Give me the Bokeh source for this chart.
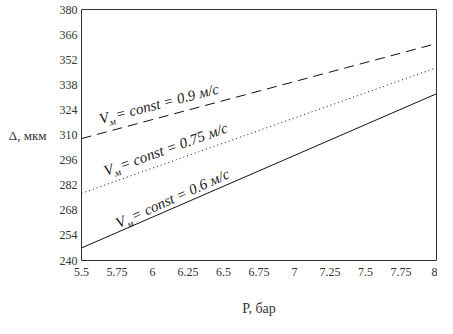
import math
from bokeh.plotting import figure
from bokeh.models import Range1d, FixedTicker
from bokeh.core.properties import value
from bokeh.embed import file_html
from bokeh.resources import INLINE

# ---- data ----
pressure = [5.5, 8.0]
delta_09 = [308.0, 361.0]
delta_075 = [277.5, 347.5]
delta_06 = [247.0, 333.0]

x_ticks = [5.5, 5.75, 6.0, 6.25, 6.5, 6.75, 7.0, 7.25, 7.5, 7.75, 8.0]
x_tick_labels = ["5.5", "5.75", "6", "6.25", "6.5", "6.75", "7", "7.25", "7.5", "7.75", "8"]
y_ticks = [240, 254, 268, 282, 296, 310, 324, 338, 352, 366, 380]

speeds = ["0.9", "0.75", "0.6"]
label_x = [5.64, 5.68, 5.77]
label_y = [314.5, 285.5, 256.5]
label_angle = [14.5, 19.8, 24.3]

SERIF = "Liberation Serif"

p = figure(width=437, height=318, output_backend="svg", toolbar_location=None,
           x_range=Range1d(5.5, 8.0), y_range=Range1d(240, 380),
           min_border_left=81, min_border_right=1, min_border_top=9, min_border_bottom=55)
p.background_fill_color = "white"
p.border_fill_color = "white"
p.outline_line_color = "#333333"
p.outline_line_width = 1
p.xgrid.visible = False
p.ygrid.visible = False

for ax in (p.xaxis, p.yaxis):
    ax.axis_line_color = None
    ax.major_tick_line_color = None
    ax.minor_tick_line_color = None
    ax.major_tick_out = 0
    ax.major_label_text_font = SERIF
    ax.major_label_text_font_size = "12px"
    ax.major_label_text_color = "#333333"

p.xaxis.ticker = FixedTicker(ticks=x_ticks)
p.xaxis.major_label_overrides = {t: l for t, l in zip(x_ticks, x_tick_labels)}
p.xaxis.major_label_standoff = 7
p.yaxis.ticker = FixedTicker(ticks=y_ticks)
p.yaxis.major_label_standoff = 4

p.line(pressure, delta_09, line_color="#111111", line_width=1, line_dash="10 6")
p.line(pressure, delta_075, line_color="#111111", line_width=1, line_dash="1 3")
p.line(pressure, delta_06, line_color="#111111", line_width=1)

# curve labels: V, subscript м, rest of text
def offs(along, down, ang_deg):
    a = math.radians(ang_deg)
    return (along * math.cos(a) + down * math.sin(a),
            -along * math.sin(a) + down * math.cos(a))

for s, lx, ly, ang in zip(speeds, label_x, label_y, label_angle):
    p.text(x=[lx], y=[ly], text=["V"], angle=ang, angle_units="deg",
           text_font=value(SERIF), text_font_style="italic", text_font_size="15px",
           text_color="#222222", text_align="left", text_baseline="bottom")
    ox, oy = offs(9, 3, ang)
    p.text(x=[lx], y=[ly], text=["м"], angle=ang, angle_units="deg",
           x_offset=ox, y_offset=oy,
           text_font=value(SERIF), text_font_style="italic", text_font_size="10px",
           text_color="#222222", text_align="left", text_baseline="bottom")
    ox, oy = offs(17, 0, ang)
    p.text(x=[lx], y=[ly], text=[" = const = " + s + " м/с"], angle=ang, angle_units="deg",
           x_offset=ox, y_offset=oy,
           text_font=value(SERIF), text_font_style="italic", text_font_size="15px",
           text_color="#222222", text_align="left", text_baseline="bottom")

# axis titles
p.yaxis.axis_label = "Δ, мкм"
p.yaxis.axis_label_orientation = "horizontal"
p.yaxis.axis_label_text_font = SERIF
p.yaxis.axis_label_text_font_style = "normal"
p.yaxis.axis_label_text_font_size = "13px"
p.yaxis.axis_label_text_color = "#333333"
p.yaxis.axis_label_standoff = 10

p.xaxis.axis_label = "P, бар"
p.xaxis.axis_label_text_font = SERIF
p.xaxis.axis_label_text_font_style = "normal"
p.xaxis.axis_label_text_font_size = "14px"
p.xaxis.axis_label_text_color = "#333333"
p.xaxis.axis_label_standoff = 22

open("out.html", "w").write(file_html(p, INLINE))
